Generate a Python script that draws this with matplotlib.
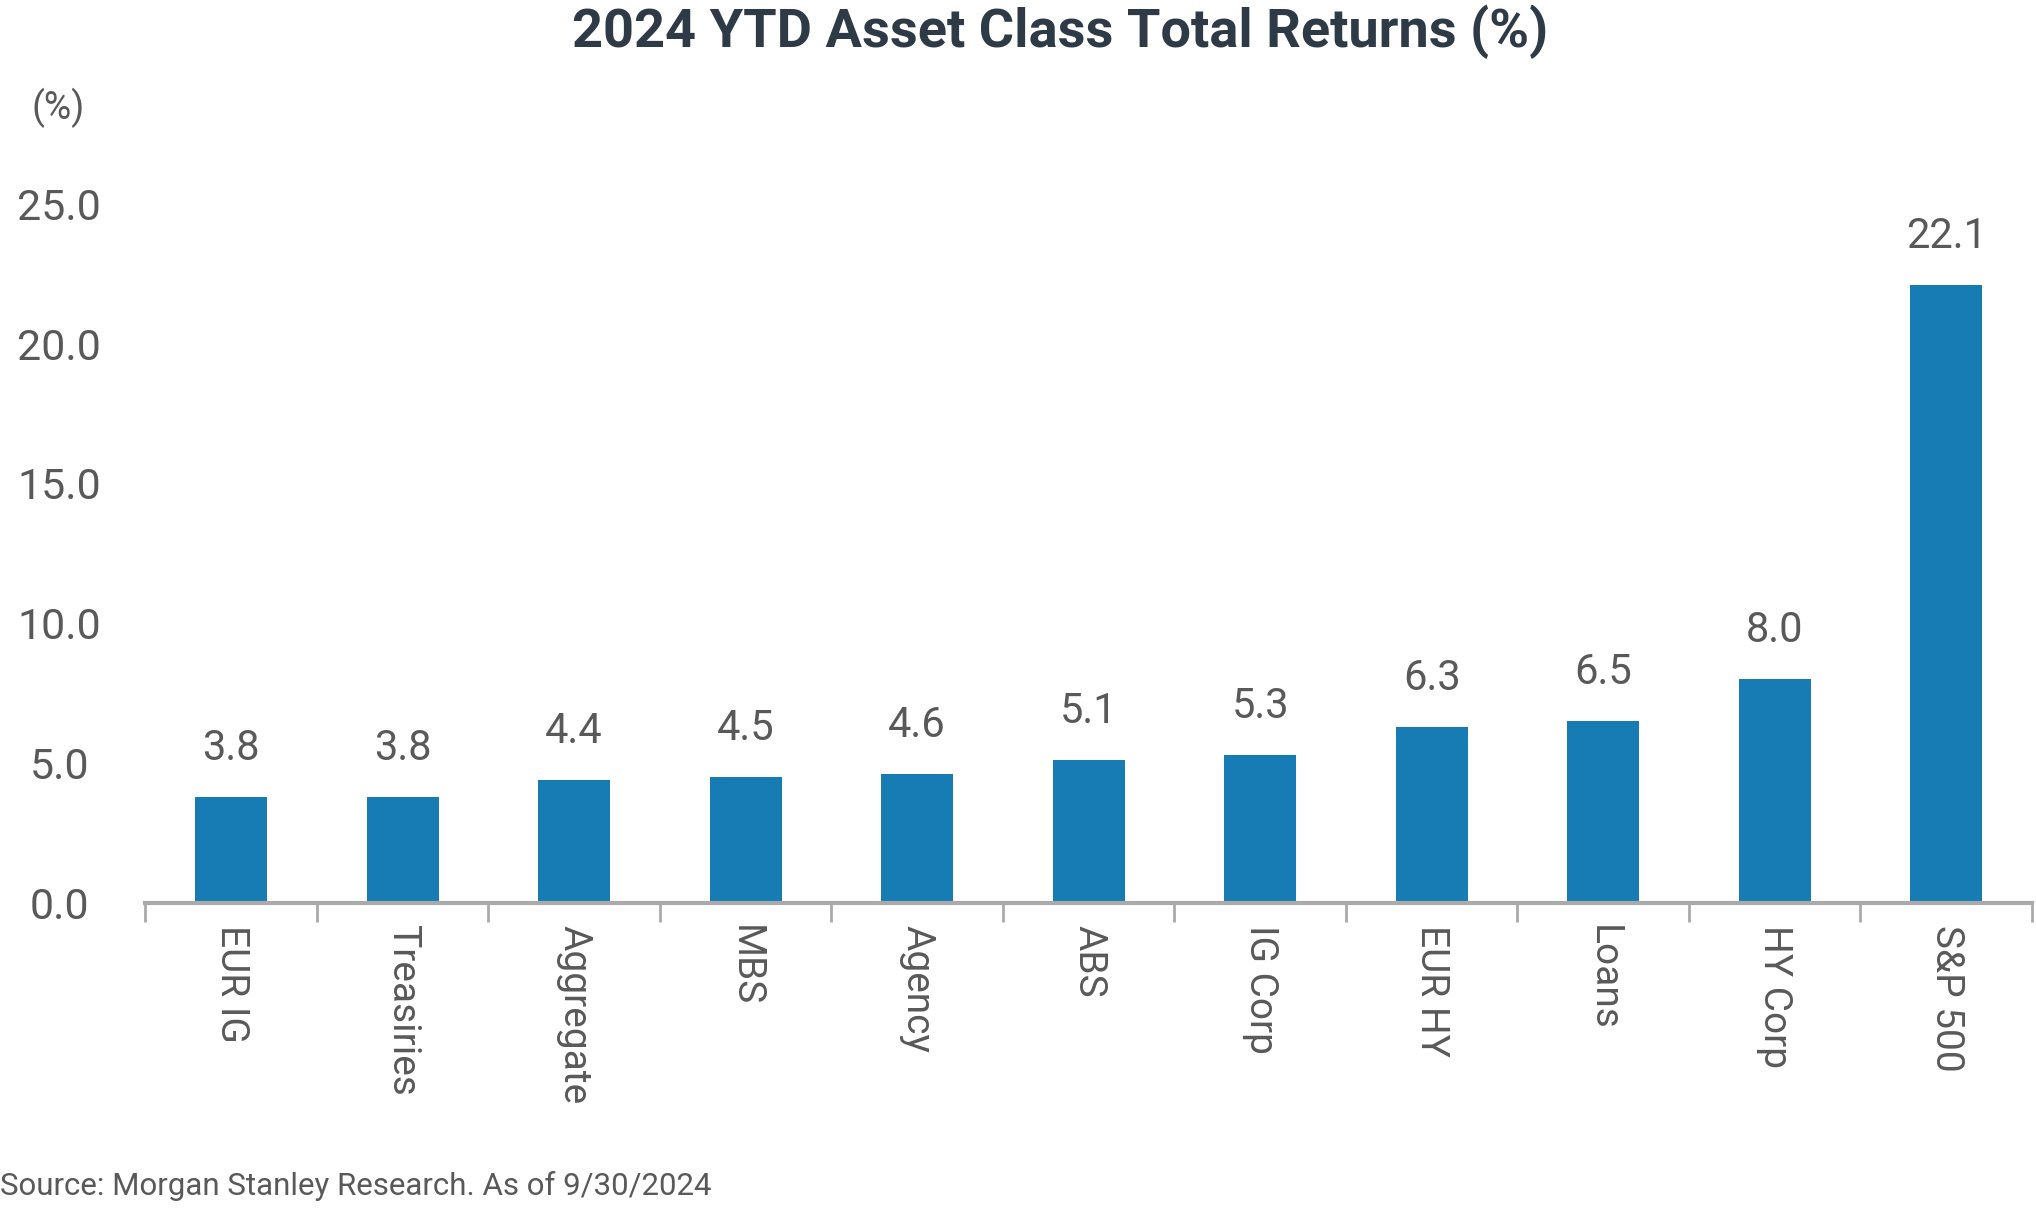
import matplotlib.pyplot as plt
import numpy as np

plt.rcParams['font.family'] = ['Roboto', 'DejaVu Sans']

categories = ['EUR IG', 'Treasiries', 'Aggregate', 'MBS', 'Agency', 'ABS',
              'IG Corp', 'EUR HY', 'Loans', 'HY Corp', 'S&P 500']
returns = [3.8, 3.8, 4.4, 4.5, 4.6, 5.1, 5.3, 6.3, 6.5, 8.0, 22.1]
yticks = [0, 5, 10, 15, 20, 25]

bar_color = '#167cb3'
text_color = '#595959'
axis_color = '#aaaaaa'

fig = plt.figure(figsize=(20.36, 12.08), dpi=100)
ax = fig.add_axes([0.0714, 0.2527, 0.9266, 0.5785])

x = np.arange(len(categories))
bars = ax.bar(x, returns, width=0.42, color=bar_color)
ax.bar_label(bars, labels=[f'{v:.1f}' for v in returns], padding=20,
             fontsize=30, color=text_color)

ax.set_xlim(-0.5, len(categories) - 0.5)
ax.set_ylim(0, 25)

# y axis: labels only, centred
ax.set_yticks(yticks, [f'{v:.1f}' for v in yticks])
ax.tick_params(axis='y', length=0, pad=62, labelsize=31, labelcolor=text_color)
for lab in ax.get_yticklabels():
    lab.set_horizontalalignment('center')

# x axis: category labels rotated, ticks at the boundaries
ax.set_xticks(x, categories, rotation=270)
ax.tick_params(axis='x', which='major', length=0, pad=16, labelsize=28,
               labelcolor=text_color)
ax.set_xticks(np.arange(-0.5, len(categories)), minor=True)
ax.tick_params(axis='x', which='minor', length=14, width=2, color=axis_color,
               direction='out')

for s in ['top', 'right', 'left']:
    ax.spines[s].set_visible(False)
ax.spines['bottom'].set_color(axis_color)
ax.spines['bottom'].set_linewidth(3)

fig.text(0.5205, 0.974, '2024 YTD Asset Class Total Returns (%)', ha='center',
         va='center', fontsize=39, fontweight='bold', color='#2e3b47')
fig.text(0.0287, 0.911, '(%)', ha='center', va='center', fontsize=27,
         color=text_color)
fig.text(0.0, 0.018, 'Source: Morgan Stanley Research. As of 9/30/2024',
         ha='left', va='center', fontsize=22.5, color=text_color)

fig.savefig('out.png', dpi=100)
